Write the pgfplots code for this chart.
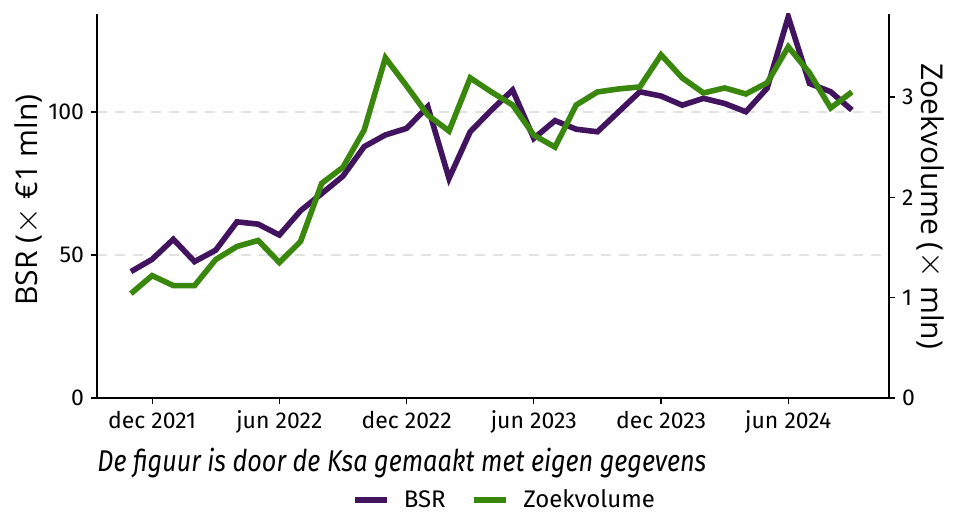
\documentclass[border=0pt]{standalone}
\usepackage{fontspec}
\setmainfont{Fira Sans}
\newfontfamily\labelfont{Open Sans}
\newfontfamily\capfont[FakeStretch=0.84]{Fira Sans}
\usepackage{pgfplots}
\pgfplotsset{compat=1.18}
\definecolor{bsr}{HTML}{42145F}
\definecolor{zoek}{HTML}{39870C}
\pgfplotsset{
  common/.style={
    at={(0,0)}, anchor=south west,
    scale only axis, width=396pt, height=192pt,
    xmin=-1.6, xmax=35.75,
    tick align=outside, major tick length=3pt,
    tick style={black, line width=0.6pt},
    axis line style={line width=0.9pt, black},
    tick label style={font=\fontsize{11.5}{13}\selectfont},
    /pgf/number format/assume math mode=true,
  }
}
\begin{document}
\begin{tikzpicture}
\useasboundingbox (-48.5pt,-57pt) rectangle (429pt,199pt);
\begin{axis}[common,
  ymin=0, ymax=134.3,
  axis x line*=bottom, axis y line*=left,
  xtick={1,7,13,19,25,31},
  xticklabels={dec 2021, jun 2022, dec 2022, jun 2023, dec 2023, jun 2024},
  ytick={0,50,100},
  ymajorgrids,
  grid style={gray!22, line width=0.7pt, dash pattern=on 5pt off 4pt},
  every axis y label/.style={at={(axis description cs:-0.0871,0.516)}, rotate=90, anchor=center},
  ylabel={\labelfont\fontsize{15}{18}\selectfont BSR ({\fontsize{17}{18}\selectfont$\times$} €1 mln)},
]
\addplot[bsr, line width=2.8pt] table {
0 44.2
1 48.5
2 55.5
3 47.7
4 51.7
5 61.6
6 60.8
7 57.0
8 65.5
9 71.5
10 77.6
11 87.9
12 92.0
13 94.3
14 101.9
15 76.8
16 93.1
17 100.7
18 107.7
19 90.8
20 97.0
21 94.0
22 93.1
23 100.1
24 107.1
25 105.6
26 102.4
27 104.8
28 103.0
29 100.1
30 108.3
31 133.3
32 110.0
33 107.1
34 100.7
};
\end{axis}
\begin{axis}[common,
  ymin=0, ymax=3.827,
  axis x line=none, axis y line*=right,
  ytick={0,1,2,3},
  every axis y label/.style={at={(axis description cs:1.053,0.499)}, rotate=-90, anchor=center},
  ylabel={\labelfont\fontsize{15}{18}\selectfont Zoekvolume ({\fontsize{17}{18}\selectfont$\times$} mln)},
  legend style={at={(axis description cs:0.516,-0.266)}, anchor=center, draw=none, fill=none,
    legend columns=2, font=\fontsize{12}{14}\selectfont,
    /tikz/every odd column/.append style={column sep=5pt},
    /tikz/every even column/.append style={column sep=11pt}},
  legend image code/.code={\draw[#1, line width=2.8pt] (0pt,0pt) -- (16pt,0pt);},
]
\addlegendimage{bsr}
\addlegendentry{BSR}
\addplot[zoek, line width=2.8pt] table {
0 1.04
1 1.22
2 1.12
3 1.12
4 1.38
5 1.51
6 1.57
7 1.35
8 1.56
9 2.14
10 2.30
11 2.67
12 3.39
13 3.11
14 2.82
15 2.66
16 3.19
17 3.05
18 2.92
19 2.62
20 2.50
21 2.92
22 3.05
23 3.08
24 3.10
25 3.42
26 3.19
27 3.04
28 3.09
29 3.03
30 3.14
31 3.50
32 3.24
33 2.89
34 3.05
};
\addlegendentry{Zoekvolume}
\end{axis}
\node[anchor=base west, inner sep=0pt, font=\capfont\itshape\fontsize{15}{18}\selectfont] at (0pt,-37pt) {De figuur is door de Ksa gemaakt met eigen gegevens};
\end{tikzpicture}
\end{document}
